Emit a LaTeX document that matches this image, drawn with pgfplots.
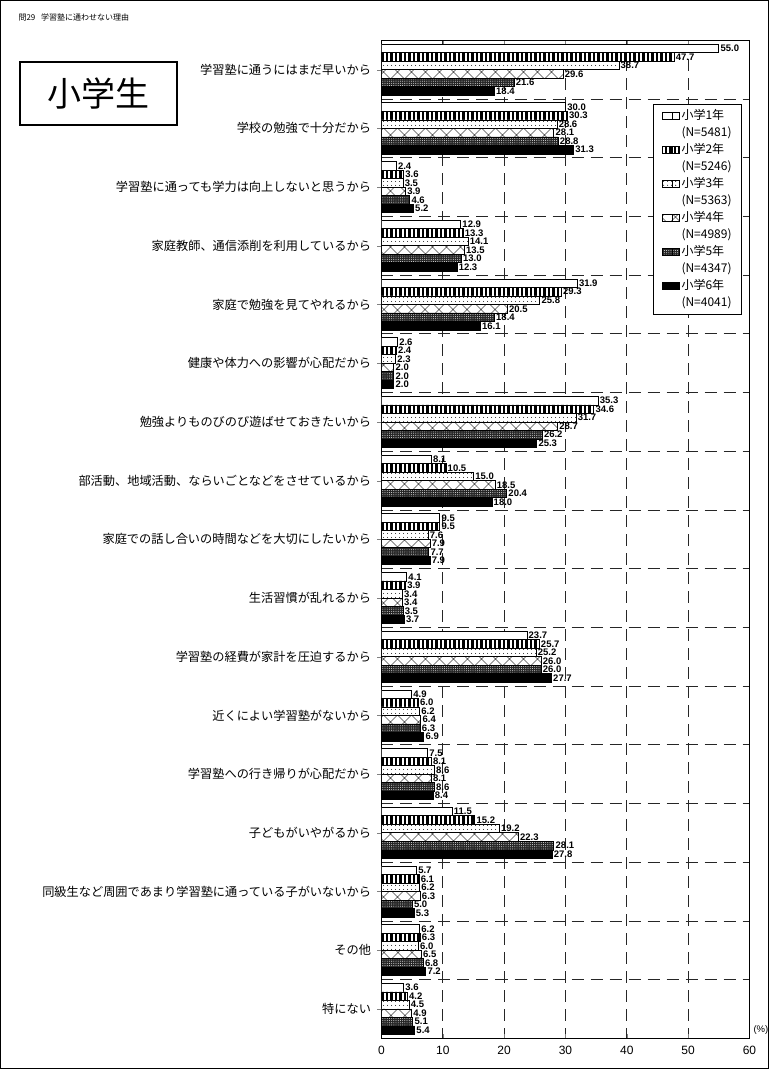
\documentclass[border=0pt]{standalone}
\usepackage{pgfplots}
\pgfplotsset{compat=1.18}
\usepackage{pgfplotstable}
\usetikzlibrary{patterns.meta}
\usepackage{fontspec}
\setmainfont{Noto Sans CJK JP}
\newfontfamily\lib{Liberation Sans}

% idx = category (top to bottom), g1..g6 = 小学1年..小学6年 (%)
\pgfplotstableread{
idx g1   g2   g3   g4   g5   g6
0   55.0 47.7 38.7 29.6 21.6 18.4
1   30.0 30.3 28.6 28.1 28.8 31.3
2   2.4  3.6  3.5  3.9  4.6  5.2
3   12.9 13.3 14.1 13.5 13.0 12.3
4   31.9 29.3 25.8 20.5 18.4 16.1
5   2.6  2.4  2.3  2.0  2.0  2.0
6   35.3 34.6 31.7 28.7 26.2 25.3
7   8.1  10.5 15.0 18.5 20.4 18.0
8   9.5  9.5  7.6  7.9  7.7  7.9
9   4.1  3.9  3.4  3.4  3.5  3.7
10  23.7 25.7 25.2 26.0 26.0 27.7
11  4.9  6.0  6.2  6.4  6.3  6.9
12  7.5  8.1  8.6  8.1  8.6  8.4
13  11.5 15.2 19.2 22.3 28.1 27.8
14  5.7  6.1  6.2  6.3  5.0  5.3
15  6.2  6.3  6.0  6.5  6.8  7.2
16  3.6  4.2  4.5  4.9  5.1  5.4
}\reasons

\begin{document}
\begin{tikzpicture}
\useasboundingbox (0pt,0pt) rectangle (769pt,1069pt);
\draw[line width=1pt] (0.5pt,0.5pt) rectangle (768.5pt,1068.5pt);
\node[anchor=west,font=\fontsize{8}{9}\selectfont] at (15pt,1052pt) {問29\hspace{0.7em}学習塾に通わせない理由};
\node[draw,line width=1.6pt,minimum width=157pt,minimum height=63pt,font=\fontsize{34}{36}\selectfont] at (98.5pt,975.5pt) {小学生};

\begin{axis}[
    at={(381.5pt,30.7pt)}, anchor=south west, scale only axis,
    width=368pt, height=998pt,
    xbar, bar width=0.145,
    xmin=0, xmax=60, ymin=-0.5, ymax=16.5, y dir=reverse,
    axis line style={line width=0.8pt},
    xtick={0,10,...,60}, xtick align=inside, major tick length=4pt,
    ytick={0,...,16}, ytick pos=left, ytick align=outside,
    minor ytick={0.5,1.5,...,15.5}, minor tick length=0pt,
    yticklabels={学習塾に通うにはまだ早いから, 学校の勉強で十分だから,
        学習塾に通っても学力は向上しないと思うから, 家庭教師、通信添削を利用しているから,
        家庭で勉強を見てやれるから, 健康や体力への影響が心配だから,
        勉強よりものびのび遊ばせておきたいから, 部活動、地域活動、ならいごとなどをさせているから,
        家庭での話し合いの時間などを大切にしたいから, 生活習慣が乱れるから,
        学習塾の経費が家計を圧迫するから, 近くによい学習塾がないから,
        学習塾への行き帰りが心配だから, 子どもがいやがるから,
        同級生など周囲であまり学習塾に通っている子がいないから, その他, 特にない},
    xmajorgrids, yminorgrids,
    major grid style={black!85, line width=0.75pt, dash pattern=on 12pt off 7pt},
    minor grid style={black!85, line width=0.75pt, dash pattern=on 12pt off 7pt},
    xticklabel style={font=\lib\fontsize{12}{13}\selectfont, yshift=-4pt},
    yticklabel style={font=\fontsize{12.2}{13}\selectfont, xshift=-3pt},
    /pgf/number format/assume math mode=true,
    point meta=x,
    nodes near coords={\pgfmathprintnumber[fixed,fixed zerofill,precision=1]{\pgfplotspointmeta}},
    nodes near coords style={font=\lib\bfseries\fontsize{9.5}{9.5}\selectfont, anchor=west, inner xsep=1.5pt, inner ysep=0pt},
    legend style={at={(rel axis cs:0.9796,0.9359)}, anchor=north east, draw=black, line width=0.8pt,
        font=\fontsize{12}{13}\selectfont, inner xsep=8pt, inner ysep=3pt, row sep=0pt,
        nodes={text height=9.5pt, text depth=2.5pt, inner ysep=2.5pt, inner xsep=2pt}},
    legend cell align=left,
    legend image code/.code={\path (0pt,-3.5pt) rectangle (17pt,3.5pt);
        \draw[#1] (10pt,-3.5pt) rectangle (17pt,3.5pt);},
]
\addplot[draw=black, line width=0.7pt, fill=white, bar shift=-0.3625]
    table[x=g1, y=idx] {\reasons};
\addlegendentry{小学1年}
\addlegendimage{empty legend}\addlegendentry{(N=5481)}
\addplot[draw=black, line width=0.7pt, fill=white,
    postaction={pattern={Lines[angle=90,distance=4.5pt,line width=2.2pt]}}, bar shift=-0.2175]
    table[x=g2, y=idx] {\reasons};
\addlegendentry{小学2年}
\addlegendimage{empty legend}\addlegendentry{(N=5246)}
\addplot[draw=black, line width=0.7pt, fill=white,
    postaction={pattern={Dots[distance=4pt,radius=0.6pt]}}, bar shift=-0.0725]
    table[x=g3, y=idx] {\reasons};
\addlegendentry{小学3年}
\addlegendimage{empty legend}\addlegendentry{(N=5363)}
\addplot[draw=black, line width=0.7pt, fill=white,
    postaction={pattern={Hatch[angle=45,distance=10.5pt,line width=0.6pt]}}, bar shift=0.0725]
    table[x=g4, y=idx] {\reasons};
\addlegendentry{小学4年}
\addlegendimage{empty legend}\addlegendentry{(N=4989)}
\addplot[draw=black, line width=0.7pt, fill=black!85,
    postaction={pattern={Dots[distance=2.2pt,radius=0.45pt]}, pattern color=white}, bar shift=0.2175]
    table[x=g5, y=idx] {\reasons};
\addlegendentry{小学5年}
\addlegendimage{empty legend}\addlegendentry{(N=4347)}
\addplot[draw=black, line width=0.7pt, fill=black, bar shift=0.3625]
    table[x=g6, y=idx] {\reasons};
\addlegendentry{小学6年}
\addlegendimage{empty legend}\addlegendentry{(N=4041)}
\end{axis}

\node[anchor=west,font=\lib\fontsize{9.5}{11}\selectfont] at (750pt,39pt) {(\%)};
\end{tikzpicture}
\end{document}
